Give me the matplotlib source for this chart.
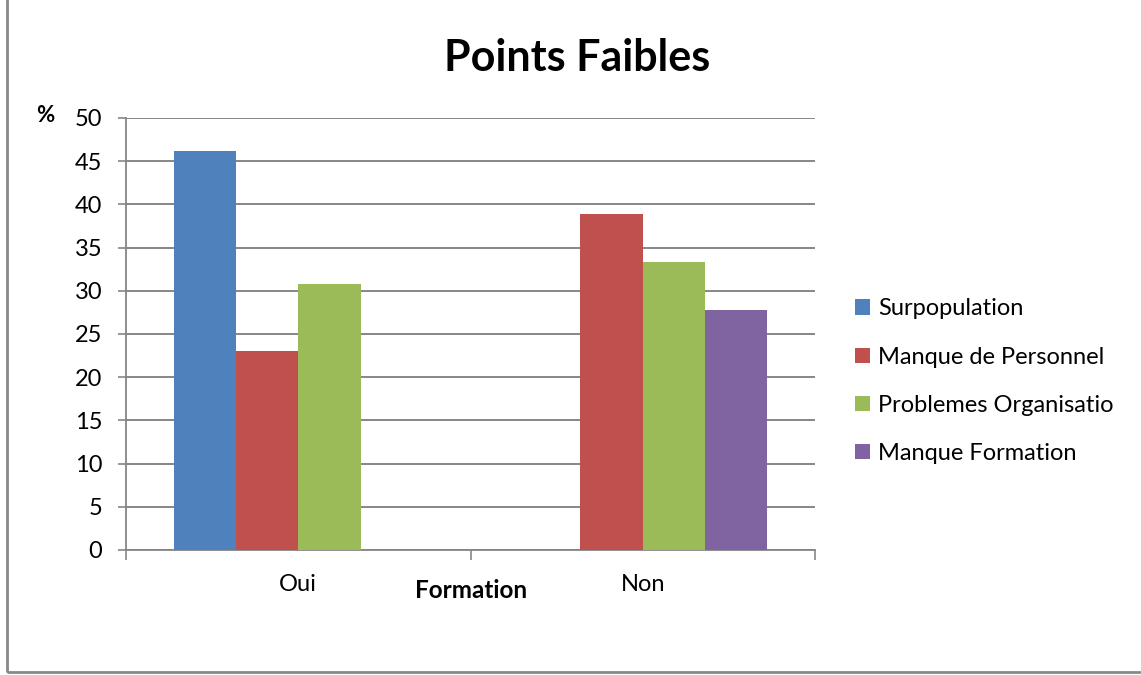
import matplotlib.pyplot as plt
import numpy as np
from matplotlib.patches import Rectangle

plt.rcParams['font.family'] = ['Lato', 'DejaVu Sans']

categories = ['Oui', 'Non']
series_names = ['Surpopulation', 'Manque de Personnel', 'Problemes Organisatio', 'Manque Formation']
surpopulation = [46.15, 0]
manque_personnel = [23.08, 38.89]
problemes_org = [30.77, 33.33]
manque_formation = [0, 27.78]
colors = ['#4F81BD', '#C0504D', '#9BBB59', '#8064A2']
yticks = [0, 5, 10, 15, 20, 25, 30, 35, 40, 45, 50]

values = [surpopulation, manque_personnel, problemes_org, manque_formation]

fig = plt.figure(figsize=(11.41, 6.75), dpi=100)
ax = fig.add_axes([126 / 1141, 1 - 550 / 675, 689 / 1141, 432 / 675])

x = np.arange(len(categories))
w = 0.181
for i, (vals, name) in enumerate(zip(values, series_names)):
    ax.bar(x + (i - 1.5) * w, vals, width=w, color=colors[i], label=name, zorder=3)

ax.set_xlim(-0.5, 1.5)
ax.set_ylim(0, 50)
ax.set_yticks(yticks)
ax.yaxis.grid(True, color='#868686', lw=1.4, zorder=0)

ax.set_xticks([-0.5, 0.5, 1.5])
ax.set_xticklabels([])
ax.set_xticks(x, minor=True)
ax.set_xticklabels(categories, minor=True)
ax.tick_params(axis='x', which='major', length=7, width=1.2, color='#868686')
ax.tick_params(axis='x', which='minor', length=0, pad=17, labelsize=17)
ax.tick_params(axis='y', length=6, width=1.2, color='#868686', pad=11, labelsize=17)

for s in ['top', 'right']:
    ax.spines[s].set_visible(False)
for s in ['left', 'bottom']:
    ax.spines[s].set_color('#868686')
    ax.spines[s].set_linewidth(1.3)

fig.text(577 / 1141, 1 - 58 / 675, 'Points Faibles', ha='center', va='center',
         fontsize=31, fontweight='bold')
fig.text(45 / 1141, 1 - 115 / 675, '%', ha='center', va='center', fontsize=16, fontweight='bold')
fig.text(471 / 1141, 1 - 590 / 675, 'Formation', ha='center', va='center', fontsize=17.5, fontweight='bold')

ax.legend(loc='upper left', bbox_to_anchor=(846 / 1141, 1 - 289 / 675), bbox_transform=fig.transFigure,
          frameon=False, fontsize=17, handlelength=0.62, handleheight=0.62, handletextpad=0.35,
          labelspacing=1.15, borderaxespad=0)

fig.patches.append(Rectangle((7 / 1141, 1 - 672 / 675), 1.2, 1.2, transform=fig.transFigure,
                             fill=False, ec='#898989', lw=2, clip_on=False))

fig.savefig('out.png', dpi=100)
